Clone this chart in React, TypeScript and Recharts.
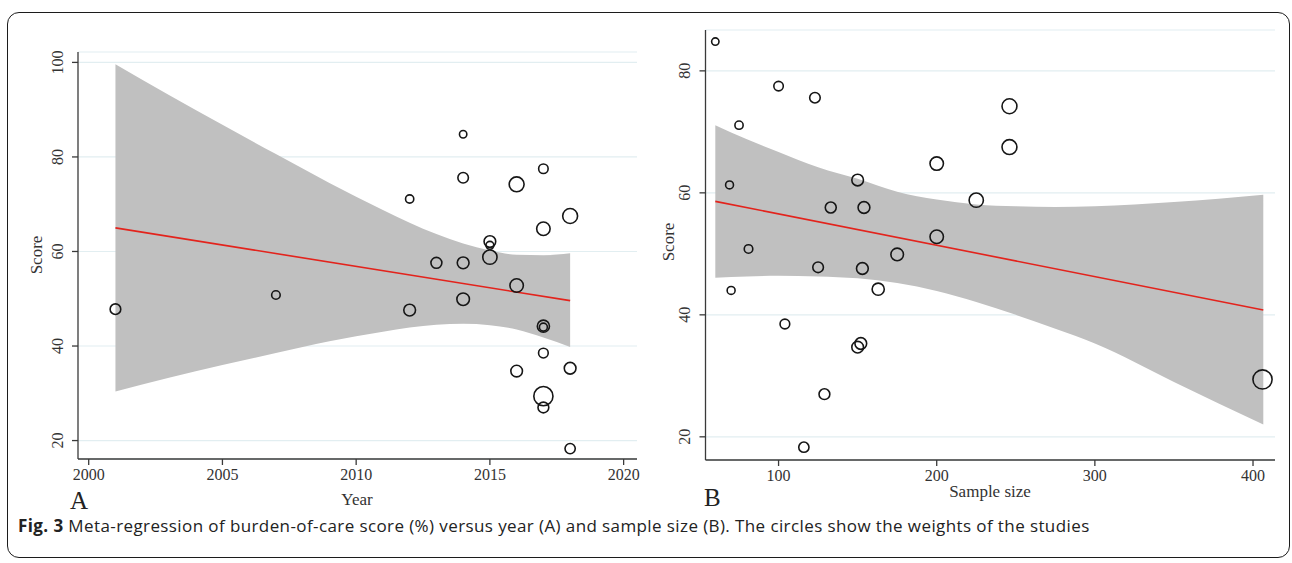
import { Area, CartesianGrid, ComposedChart, Line, Scatter, XAxis, YAxis, ZAxis } from "recharts"

// one entry per study: burden-of-care score, publication year, sample size (= circle weight)
const scores = [84.8, 77.5, 75.6, 74.2, 71.1, 67.5, 64.8, 62.1, 61.3, 58.8, 57.6, 57.6, 52.8, 50.8, 49.9, 47.8, 47.6, 44.2, 44.0, 38.5, 35.3, 34.7, 29.4, 27.0, 18.3]
const years = [2014, 2017, 2014, 2016, 2012, 2018, 2017, 2015, 2015, 2015, 2013, 2014, 2016, 2007, 2014, 2001, 2012, 2017, 2017, 2017, 2018, 2016, 2017, 2017, 2018]
const sampleSizes = [60, 100, 123, 246, 75, 246, 200, 150, 69, 225, 133, 154, 200, 81, 175, 125, 153, 163, 70, 104, 152, 150, 406, 129, 116]

const yearTicks = [2000, 2005, 2010, 2015, 2020]
const sizeTicks = [100, 200, 300, 400]
const scoreTicksA = [20, 40, 60, 80, 100]
const scoreTicksB = [20, 40, 60, 80]

// fitted regression line (ends) and its confidence band
const fitYearX = [2001, 2018]
const fitYearY = [65.0, 49.6]
const bandYearX = [2001, 2003, 2005, 2007, 2009, 2011, 2012, 2013, 2014, 2015, 2016, 2017, 2018]
const bandYearLow = [30.4, 33.3, 36.0, 38.5, 41.0, 43.0, 43.9, 44.5, 44.7, 44.4, 43.5, 41.8, 39.8]
const bandYearHigh = [99.6, 93.1, 86.8, 80.6, 74.5, 68.8, 66.1, 63.7, 61.7, 60.2, 59.3, 59.2, 59.6]

const fitSizeX = [60, 406.5]
const fitSizeY = [58.6, 40.8]
const bandSizeX = [60, 80, 100, 125, 150, 175, 200, 225, 250, 275, 300, 350, 406.5]
const bandSizeLow = [46.1, 46.3, 46.4, 46.3, 46.0, 45.2, 43.9, 42.1, 40.0, 37.7, 35.3, 29.0, 22.0]
const bandSizeHigh = [71.1, 68.8, 66.7, 64.2, 62.3, 60.2, 58.9, 58.1, 57.8, 57.7, 57.8, 58.5, 59.7]

const serif = "'Liberation Serif', 'DejaVu Serif', serif"

const studiesByYear = scores.map((s, i) => ({ x: years[i], y: s, n: sampleSizes[i] }))
const studiesBySize = scores.map((s, i) => ({ x: sampleSizes[i], y: s, n: sampleSizes[i] }))
const fitByYear = fitYearX.map((x, i) => ({ x, y: fitYearY[i] }))
const fitBySize = fitSizeX.map((x, i) => ({ x, y: fitSizeY[i] }))
const bandByYear = bandYearX.map((x, i) => ({ x, range: [bandYearLow[i], bandYearHigh[i]] }))
const bandBySize = bandSizeX.map((x, i) => ({ x, range: [bandSizeLow[i], bandSizeHigh[i]] }))

const Ring = (p: any) => {
  const r = p.width ? p.width / 2 : Math.sqrt((p.size ?? 64) / Math.PI)
  return <circle cx={p.cx} cy={p.cy} r={r} fill="none" stroke="#161616" strokeWidth={1.6} />
}

const XTick = (p: any) => (
  <text x={p.x} y={p.y} dy={9} textAnchor="middle" fontFamily={serif} fontSize={16} fill="#333">
    {p.payload.value}
  </text>
)

const YTick = (p: any) => (
  <text x={p.x} y={p.y} transform={`rotate(-90, ${p.x}, ${p.y})`} textAnchor="middle" fontFamily={serif} fontSize={16} fill="#333">
    {p.payload.value}
  </text>
)

function Panel(props: any) {
  const { band, fit, studies, xDomain, xTicks, yDomain, yTicks, width, margin, yAxisWidth } = props
  return (
    <ComposedChart width={width} height={563} data={band} margin={margin}>
      <CartesianGrid vertical={false} stroke="#e2eef1" strokeWidth={1.2} />
      <XAxis
        type="number"
        dataKey="x"
        domain={xDomain}
        ticks={xTicks}
        interval={0}
        allowDataOverflow
        height={30}
        tickSize={6}
        tickMargin={6}
        axisLine={{ stroke: "#3a3a3a", strokeWidth: 1.3 }}
        tickLine={{ stroke: "#3a3a3a", strokeWidth: 1.3 }}
        tick={<XTick />}
      />
      <YAxis
        type="number"
        dataKey="y"
        domain={yDomain}
        ticks={yTicks}
        interval={0}
        allowDataOverflow
        width={yAxisWidth}
        tickSize={6}
        tickMargin={9}
        axisLine={{ stroke: "#3a3a3a", strokeWidth: 1.3 }}
        tickLine={{ stroke: "#3a3a3a", strokeWidth: 1.3 }}
        tick={<YTick />}
      />
      <ZAxis type="number" dataKey="n" domain={[0, 410]} range={[0, 291]} />
      <Area dataKey="range" type="monotone" stroke="none" fill="#c0c0c0" fillOpacity={1} isAnimationActive={false} />
      <Scatter data={studies} dataKey="y" shape={<Ring />} isAnimationActive={false} />
      <Line data={fit} dataKey="y" stroke="#e3231c" strokeWidth={1.6} dot={false} isAnimationActive={false} />
    </ComposedChart>
  )
}

const abs = (style: any) => ({ position: "absolute" as const, whiteSpace: "nowrap" as const, lineHeight: 1, ...style })

export default function App() {
  return (
    <div style={{ position: "absolute", left: 0, top: 0, width: 1292, height: 563, background: "#fff", overflow: "hidden" }}>
      <div style={abs({ left: 7, top: 12, width: 1283, height: 546, border: "1.5px solid #1c1c1c", borderRadius: 12, boxSizing: "border-box" })} />

      <div style={abs({ left: 0, top: 0 })}>
        <Panel
          band={bandByYear}
          fit={fitByYear}
          studies={studiesByYear}
          xDomain={[1999.6, 2020.5]}
          xTicks={yearTicks}
          yDomain={[16.1, 102.2]}
          yTicks={scoreTicksA}
          width={650}
          yAxisWidth={78}
          margin={{ top: 52, right: 13, bottom: 74, left: 0 }}
        />
      </div>
      <div style={abs({ left: 640, top: 0 })}>
        <Panel
          band={bandBySize}
          fit={fitBySize}
          studies={studiesBySize}
          xDomain={[53.8, 413.9]}
          xTicks={sizeTicks}
          yDomain={[16.2, 86.7]}
          yTicks={scoreTicksB}
          width={652}
          yAxisWidth={65.5}
          margin={{ top: 30, right: 17, bottom: 73, left: 0 }}
        />
      </div>

      <div style={abs({ left: 36, top: 255, transform: "translate(-50%, -50%) rotate(-90deg)", fontFamily: serif, fontSize: 17, color: "#333" })}>Score</div>
      <div style={abs({ left: 668, top: 242, transform: "translate(-50%, -50%) rotate(-90deg)", fontFamily: serif, fontSize: 17, color: "#333" })}>Score</div>
      <div style={abs({ left: 357, top: 499, transform: "translate(-50%, -50%)", fontFamily: serif, fontSize: 17, color: "#333" })}>Year</div>
      <div style={abs({ left: 990, top: 491, transform: "translate(-50%, -50%)", fontFamily: serif, fontSize: 17, color: "#333" })}>Sample size</div>
      <div style={abs({ left: 70, top: 500, transform: "translateY(-50%)", fontFamily: serif, fontSize: 25, color: "#222" })}>A</div>
      <div style={abs({ left: 704, top: 497, transform: "translateY(-50%)", fontFamily: serif, fontSize: 25, color: "#222" })}>B</div>

      <div style={abs({ left: 18, top: 525, transform: "translateY(-50%)", fontFamily: "'Open Sans', sans-serif", fontSize: 17, color: "#222", letterSpacing: 0.4 })}>
        <b>Fig. 3</b> Meta-regression of burden-of-care score (%) versus year (A) and sample size (B). The circles show the weights of the studies
      </div>
    </div>
  )
}
